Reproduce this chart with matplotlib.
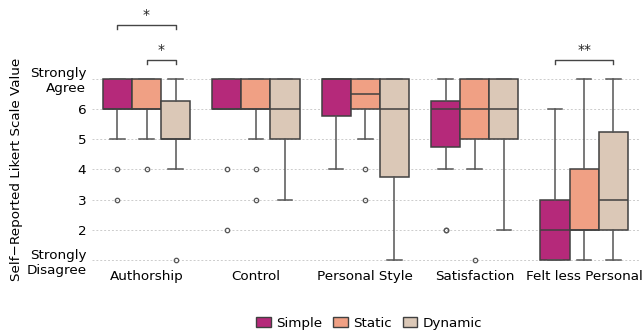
import matplotlib.pyplot as plt
from matplotlib.patches import Patch

plt.rcParams["font.family"] = "DejaVu Sans"
plt.rcParams["font.size"] = 9.7

categories = ["Authorship", "Control", "Personal Style", "Satisfaction", "Felt less Personal"]
conditions = ["Simple", "Static", "Dynamic"]
colors = ["#b5297a", "#f0a084", "#dbc8b7"]

# box stats per condition (rows) and category (columns)
q1 = [[6, 6, 5.75, 4.75, 1],
      [6, 6, 6, 5, 2],
      [5, 5, 3.75, 5, 2]]
med = [[6, 6, 7, 6, 2],
       [6, 6, 6.5, 6, 2],
       [5, 6, 6, 6, 3]]
q3 = [[7, 7, 7, 6.25, 3],
      [7, 7, 7, 7, 4],
      [6.25, 7, 7, 7, 5.25]]
whislo = [[5, 6, 4, 4, 1],
          [5, 5, 5, 4, 1],
          [4, 3, 1, 2, 1]]
whishi = [[7, 7, 7, 7, 6],
          [7, 7, 7, 7, 7],
          [7, 7, 7, 7, 7]]
fliers = [[[4, 3], [4, 2], [], [2, 2], []],
          [[4], [4, 3], [4, 3], [1], []],
          [[1], [], [], [], []]]

# significance brackets: (category, condition a, condition b, height, label)
brackets = [(0, 0, 2, 8.65, "*"),
            (0, 1, 2, 7.5, "*"),
            (4, 0, 2, 7.5, "**")]

ytick_labels = ["Strongly\nDisagree", "2", "3", "4", "5", "6", "Strongly\nAgree"]

fig = plt.figure(figsize=(6.42, 3.35), dpi=100)
ax = fig.add_axes([0.143, 0.21, 0.852, 0.79])

width = 0.8 / 3
offsets = [-width, 0, width]
edge = "#404040"

for j, cond in enumerate(conditions):
    stats = []
    for i in range(len(categories)):
        stats.append(dict(q1=q1[j][i], med=med[j][i], q3=q3[j][i],
                          whislo=whislo[j][i], whishi=whishi[j][i],
                          fliers=fliers[j][i]))
    pos = [i + offsets[j] for i in range(len(categories))]
    ax.bxp(stats, positions=pos, widths=width, patch_artist=True,
           showfliers=True, manage_ticks=False,
           boxprops=dict(facecolor=colors[j], edgecolor=edge, linewidth=1.1),
           medianprops=dict(color=edge, linewidth=1.1),
           whiskerprops=dict(color="#555555", linewidth=1.1),
           capprops=dict(color="#555555", linewidth=1.1),
           flierprops=dict(marker="o", markersize=3.2, markerfacecolor="none",
                           markeredgecolor="#555555", markeredgewidth=0.9))

for cat, a, b, y, label in brackets:
    x1 = cat + offsets[a]
    x2 = cat + offsets[b]
    h = 0.13
    ax.plot([x1, x1, x2, x2], [y, y + h, y + h, y], color="#454545", lw=1)
    ax.text((x1 + x2) / 2, y + h + 0.1, label, ha="center", va="bottom",
            fontsize=10, color="#222222")

ax.set_xlim(-0.5, 4.5)
ax.set_ylim(0.85, 9.6)
ax.set_xticks(range(len(categories)))
ax.set_xticklabels(categories)
ax.set_yticks(range(1, 8))
ax.set_yticklabels(ytick_labels, ha="right")
ax.tick_params(length=0, pad=4)
ax.set_ylabel("Self\u2212Reported Likert Scale Value", y=0.36, labelpad=2)
ax.yaxis.grid(True, linestyle=(0, (2, 2)), color="#cccccc", linewidth=0.7)
ax.set_axisbelow(True)
for s in ax.spines.values():
    s.set_visible(False)

handles = [Patch(facecolor=c, edgecolor=edge, linewidth=1, label=n)
           for c, n in zip(colors, conditions)]
fig.legend(handles=handles, loc="lower center", bbox_to_anchor=(0.575, -0.02),
           ncol=3, frameon=False, handlelength=1.1, handleheight=0.7,
           handletextpad=0.4, columnspacing=0.8)

fig.savefig("out.png", dpi=100)
